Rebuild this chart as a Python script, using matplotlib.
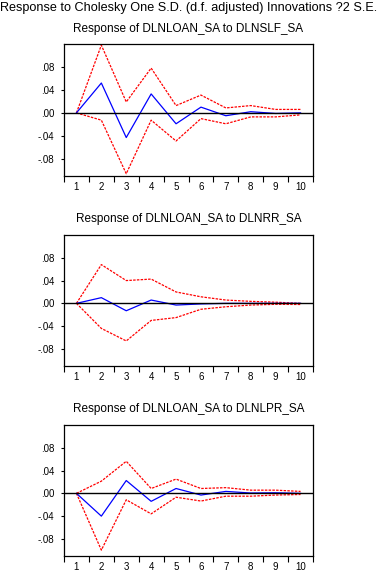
import matplotlib
matplotlib.use("Agg")
import matplotlib.pyplot as plt
import numpy as np

periods = [1, 2, 3, 4, 5, 6, 7, 8, 9, 10]

main_title = "Response to Cholesky One S.D. (d.f. adjusted) Innovations ?2 S.E."
titles = ["Response of DLNLOAN_SA to DLNSLF_SA",
          "Response of DLNLOAN_SA to DLNRR_SA",
          "Response of DLNLOAN_SA to DLNLPR_SA"]

slf_resp = [0.0, 0.052, -0.043, 0.033, -0.019, 0.010, -0.005, 0.002, -0.001, 0.000]
slf_upper = [0.0, 0.118, 0.019, 0.078, 0.0127, 0.031, 0.0086, 0.0127, 0.006, 0.006]
slf_lower = [0.0, -0.0127, -0.106, -0.0127, -0.049, -0.010, -0.019, -0.007, -0.007, -0.0035]

rr_resp = [0.0, 0.010, -0.013, 0.0058, -0.003, -0.001, 0.0, 0.0, 0.0, 0.0]
rr_upper = [0.0, 0.068, 0.040, 0.0426, 0.020, 0.0115, 0.0058, 0.0035, 0.002, 0.0]
rr_lower = [0.0, -0.044, -0.066, -0.030, -0.025, -0.0104, -0.006, -0.003, -0.0017, -0.002]

lpr_resp = [0.0, -0.040, 0.0225, -0.014, 0.0085, -0.003, 0.0034, 0.0006, 0.001, 0.0]
lpr_upper = [0.0, 0.0214, 0.0563, 0.0085, 0.025, 0.0085, 0.010, 0.0056, 0.0056, 0.0034]
lpr_lower = [0.0, -0.0997, -0.0113, -0.036, -0.0068, -0.0135, -0.005, -0.005, -0.003, -0.002]

ytick_vals = [-0.08, -0.04, 0.0, 0.04, 0.08]
ytick_labels = ["-.08", "-.04", ".00", ".04", ".08"]

plt.rcParams['font.family'] = ['Liberation Sans', 'DejaVu Sans']

W, H = 379, 571
fig = plt.figure(figsize=(W / 100, H / 100), dpi=100)

fig.text(189 / W, 1 - 8 / H, main_title, ha='center', va='center', fontsize=9.1)

panels = [
    (44, 176, slf_resp, slf_upper, slf_lower),
    (235, 366, rr_resp, rr_upper, rr_lower),
    (425, 556, lpr_resp, lpr_upper, lpr_lower),
]
title_y = [29, 219, 409]

left_px, right_px = 64, 313
for i, (top, bot, resp, up, lo) in enumerate(panels):
    ax = fig.add_axes([left_px / W, 1 - bot / H, (right_px - left_px) / W, (bot - top) / H])
    fig.text((left_px + right_px) / 2 / W, 1 - title_y[i] / H, titles[i],
             ha='center', va='center', fontsize=8.5)
    ax.plot(periods, up, color='#ff0000', lw=0.9, ls=(0, (2, 1)))
    ax.plot(periods, lo, color='#ff0000', lw=0.9, ls=(0, (2, 1)))
    ax.plot(periods, resp, color='#0000ff', lw=0.9)
    ax.axhline(0, color='black', lw=1.0)
    ax.set_xlim(0.5, 10.5)
    ax.set_ylim(-0.11, 0.12)
    ax.set_yticks(ytick_vals)
    ax.set_yticklabels(ytick_labels, fontsize=7)
    ax.set_xticks(np.arange(0.5, 11, 1.0))
    ax.set_xticklabels([])
    ax.set_xticks(periods, minor=True)
    ax.set_xticklabels([str(p) for p in periods], minor=True, fontsize=7)
    ax.tick_params(axis='x', which='major', direction='out', length=4, width=0.8)
    ax.tick_params(axis='x', which='minor', length=0, pad=4)
    ax.tick_params(axis='y', direction='out', length=2, width=0.8, pad=5)
    for s in ax.spines.values():
        s.set_linewidth(0.9)

fig.savefig("out.png", dpi=100)
